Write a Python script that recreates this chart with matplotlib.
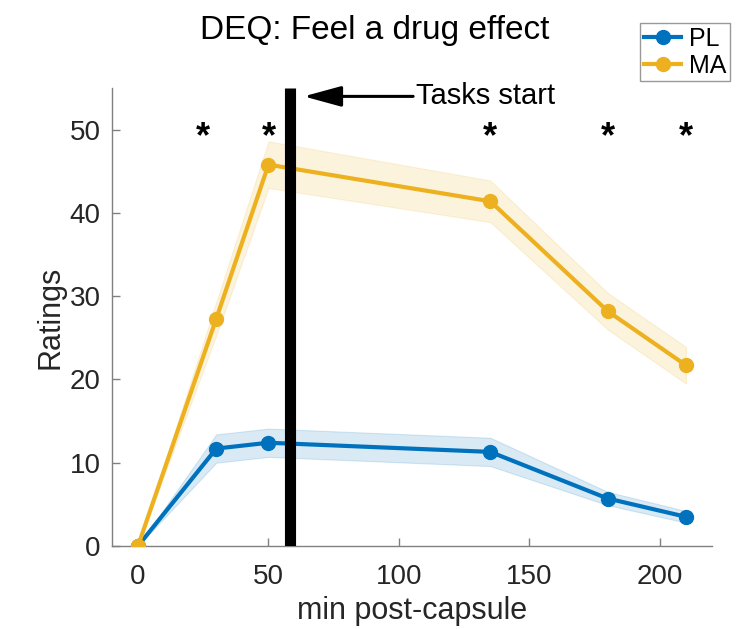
import matplotlib.pyplot as plt
import numpy as np

plt.rcParams["font.family"] = ["Liberation Sans", "DejaVu Sans"]

times = [0, 30, 50, 135, 180, 210]
pl_mean = [0, 11.7, 12.4, 11.3, 5.7, 3.5]
pl_sem = [0, 1.7, 1.7, 1.7, 0.8, 0.7]
ma_mean = [0, 27.3, 45.8, 41.4, 28.2, 21.7]
ma_sem = [0, 2.0, 2.8, 2.5, 2.2, 2.2]
sig_times = [25, 50, 135, 180, 210]
task_start = 58.3

blue = "#0072BD"
gold = "#EDB120"
txtcol = "#262626"
axcol = "#808080"

fig = plt.figure(figsize=(7.41, 6.29), dpi=100)
ax = fig.add_axes([0.151, 0.132, 0.81, 0.728])

for mean, sem, col, lab in [(pl_mean, pl_sem, blue, "PL"), (ma_mean, ma_sem, gold, "MA")]:
    m = np.array(mean)
    s = np.array(sem)
    ax.fill_between(times, m - s, m + s, color=col, alpha=0.15, lw=0.8, edgecolor=col)
    ax.plot(times, m, "-o", color=col, lw=3, ms=10, label=lab, zorder=3)

ax.plot([task_start, task_start], [0, 55], color="black", lw=8, solid_capstyle="butt", zorder=4)

for t in sig_times:
    ax.text(t, 49.0, "*", ha="center", va="center", fontsize=26, fontweight="bold")

ax.annotate("Tasks start", xy=(63.5, 54.0), xytext=(106.5, 54.0),
            fontsize=21, va="center", ha="left",
            arrowprops=dict(arrowstyle="-|>,head_length=1.1,head_width=0.3",
                            color="black", lw=2.2, shrinkA=0, shrinkB=0))

ax.set_xlim(-10, 220)
ax.set_ylim(0, 55)
ax.set_xticks([0, 50, 100, 150, 200])
ax.set_yticks([0, 10, 20, 30, 40, 50])
ax.tick_params(direction="in", labelsize=20, labelcolor=txtcol, color=axcol,
               length=6, width=1.0)
ax.tick_params(axis="x", pad=13)
ax.tick_params(axis="y", pad=8)
for side in ["top", "right"]:
    ax.spines[side].set_visible(False)
for side in ["left", "bottom"]:
    ax.spines[side].set_color(axcol)
    ax.spines[side].set_linewidth(1.0)

ax.set_xlabel("min post-capsule", fontsize=22, color=txtcol, labelpad=4)
ax.set_ylabel("Ratings", fontsize=22, color=txtcol, labelpad=3)
fig.text(0.505, 0.952, "DEQ: Feel a drug effect", ha="center", va="center", fontsize=24)

leg = fig.legend(loc="upper right", bbox_to_anchor=(0.985, 0.963), borderaxespad=0,
                 fontsize=18, fancybox=False, edgecolor=axcol, handlelength=1.5,
                 handletextpad=0.3, borderpad=0.15, labelspacing=0.1)
leg.get_frame().set_linewidth(1.0)

fig.savefig("out.png", dpi=100)
